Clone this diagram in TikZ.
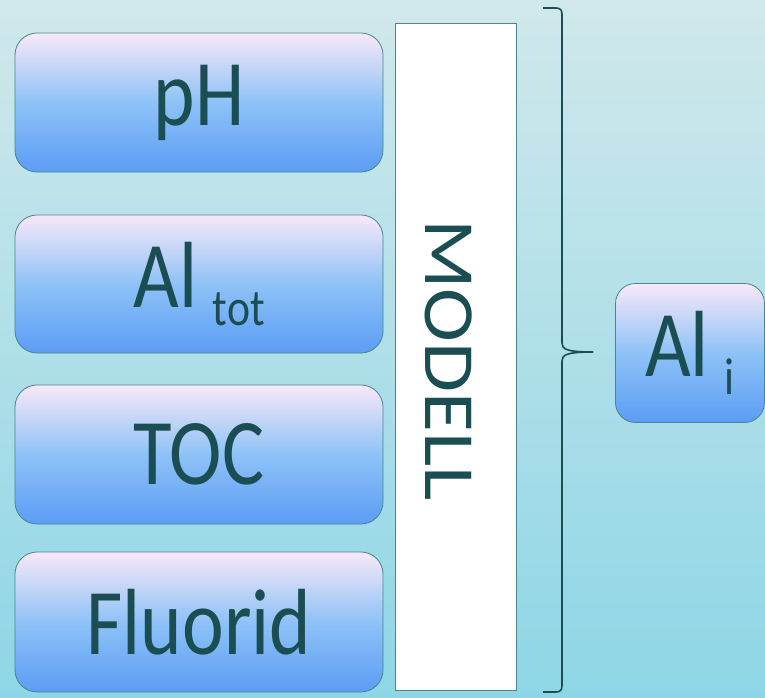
\documentclass[tikz,border=0pt]{standalone}
\usepackage{fontspec}
\newfontfamily\lbl[FakeStretch=0.84]{Carlito}
\newfontfamily\lbllong[FakeStretch=1.13]{Carlito}
\usetikzlibrary{shapes.misc}
\definecolor{ink}{HTML}{1B4E53}
\definecolor{edge}{HTML}{4A8590}
\definecolor{bgtop}{HTML}{D0E8EB}
\definecolor{bgbot}{HTML}{8ED6E6}
\definecolor{boxtop}{HTML}{F8E8F8}
\definecolor{boxmid}{HTML}{8EC2F7}
\definecolor{boxbot}{HTML}{5B9DF5}
\tikzset{
  inbox/.style={rectangle, rounded corners=22pt, draw=edge, line width=0.8pt,
    top color=boxtop, bottom color=boxbot, middle color=boxmid,
    text=ink, font=\lbl\fontsize{94}{94}\selectfont, inner sep=0pt},
  modelbox/.style={rectangle, draw=edge, line width=0.8pt, fill=white, inner sep=0pt},
  bracket/.style={draw=ink, line width=1.6pt}
}
\newcommand{\lowsub}[2]{\raisebox{#1}{\fontsize{52}{52}\selectfont #2}}
\begin{document}
\begin{tikzpicture}[x=1pt,y=-1pt]
  % background
  \shade[top color=bgtop, bottom color=bgbot] (0,0) rectangle (765,698);
  \useasboundingbox (0,0) rectangle (765,698);

  % input boxes
  \node[inbox, minimum width=368pt, minimum height=139pt] (ph)  at (199,102.5) {pH};
  \node[inbox, minimum width=368pt, minimum height=138pt] (alt) at (199,284) {Al\,\lowsub{-18pt}{tot}};
  \node[inbox, minimum width=368pt, minimum height=139pt] (toc) at (199,454.5) {TOC};
  \node[inbox, minimum width=368pt, minimum height=140pt] (flu) at (199,622) {Fluorid};

  % model column
  \node[modelbox, minimum width=121pt, minimum height=667pt] (mod) at (455.5,356.5) {};
  \node[text=ink, font=\lbllong\fontsize{72}{72}\selectfont, rotate=-90, inner sep=0pt] (modtxt) at (449,360) {MODELL};

  % output box
  \node[inbox, rounded corners=20pt, minimum width=149pt, minimum height=139pt] (ali) at (690,353) {Al\,\lowsub{-18pt}{i}};

  % curly brace
  \coordinate (btop) at (543,8);
  \coordinate (bbot) at (543,692);
  \coordinate (btip) at (593,352);
  \draw[bracket] (btop) -- (556,8) .. controls (560,8) and (562,10) .. (562,14)
    -- (562,343) .. controls (562,349) and (566,352) .. (btip);
  \draw[bracket] (btip) .. controls (566,352) and (562,355) .. (562,361)
    -- (562,686) .. controls (562,690) and (560,692) .. (556,692) -- (bbot);
\end{tikzpicture}
\end{document}
